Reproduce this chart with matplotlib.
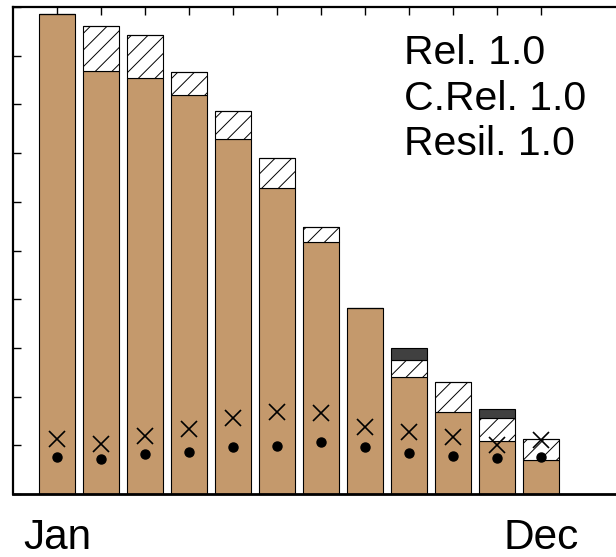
import matplotlib
matplotlib.use('Agg')
import matplotlib.pyplot as plt
import numpy as np

plt.rcParams['font.family'] = ['Liberation Sans', 'DejaVu Sans']
plt.rcParams['hatch.linewidth'] = 0.7

months = list(range(1, 13))
month_labels = ['Jan', '', '', '', '', '', '', '', '', '', '', 'Dec']
base = [9.86, 8.69, 8.54, 8.19, 7.28, 6.28, 5.18, 3.82, 2.40, 1.68, 1.09, 0.70]
hatched = [0.0, 0.91, 0.88, 0.47, 0.59, 0.61, 0.31, 0.0, 0.35, 0.62, 0.47, 0.43]
dark = [0.0, 0.0, 0.0, 0.0, 0.0, 0.0, 0.0, 0.0, 0.25, 0.0, 0.19, 0.0]
cross = [1.13, 1.02, 1.19, 1.33, 1.57, 1.68, 1.66, 1.38, 1.28, 1.18, 1.01, 1.11]
dots = [0.77, 0.71, 0.83, 0.86, 0.97, 0.98, 1.07, 0.96, 0.84, 0.79, 0.73, 0.77]
stats = ['Rel. 1.0', 'C.Rel. 1.0', 'Resil. 1.0']

fig = plt.figure(figsize=(6.16, 5.57), dpi=100)
ax = fig.add_axes([13 / 616, 1 - 494 / 557, 1 - 13 / 616, 487 / 557])

base = np.array(base)
hatched = np.array(hatched)
dark = np.array(dark)

ax.bar(months, base, width=0.8, color='#C4996C', edgecolor='black', linewidth=0.8, zorder=2)
ax.bar(months, hatched, bottom=base, width=0.8, color='white', edgecolor='black',
       linewidth=0.8, hatch='//', zorder=2)
ax.bar(months, dark, bottom=base + hatched, width=0.8, color='#404040', edgecolor='black',
       linewidth=0.8, zorder=2)

ax.plot(months, cross, 'x', color='black', markersize=11, markeredgewidth=1.2, zorder=3)
ax.plot(months, dots, 'o', color='black', markersize=6.5, zorder=3)

ax.set_xlim(0, 603 / 44)
ax.set_ylim(0, 10)
ax.set_xticks(months)
ax.set_xticklabels(month_labels, fontsize=30.5)
ax.set_yticks(range(0, 11))
ax.set_yticklabels([])
ax.tick_params(axis='x', direction='in', top=True, bottom=True, length=6, width=1, pad=17)
ax.tick_params(axis='y', direction='in', left=True, right=False, length=6, width=1)

ax.spines['right'].set_visible(False)
for s in ['left', 'top']:
    ax.spines[s].set_linewidth(1.6)
ax.spines['bottom'].set_linewidth(2)

ax.text(404 / 616, 1 - 34 / 557, '\n'.join(stats), transform=fig.transFigure,
        fontsize=29.5, va='top', ha='left', linespacing=1.25)

plt.savefig('out.png', dpi=100)
